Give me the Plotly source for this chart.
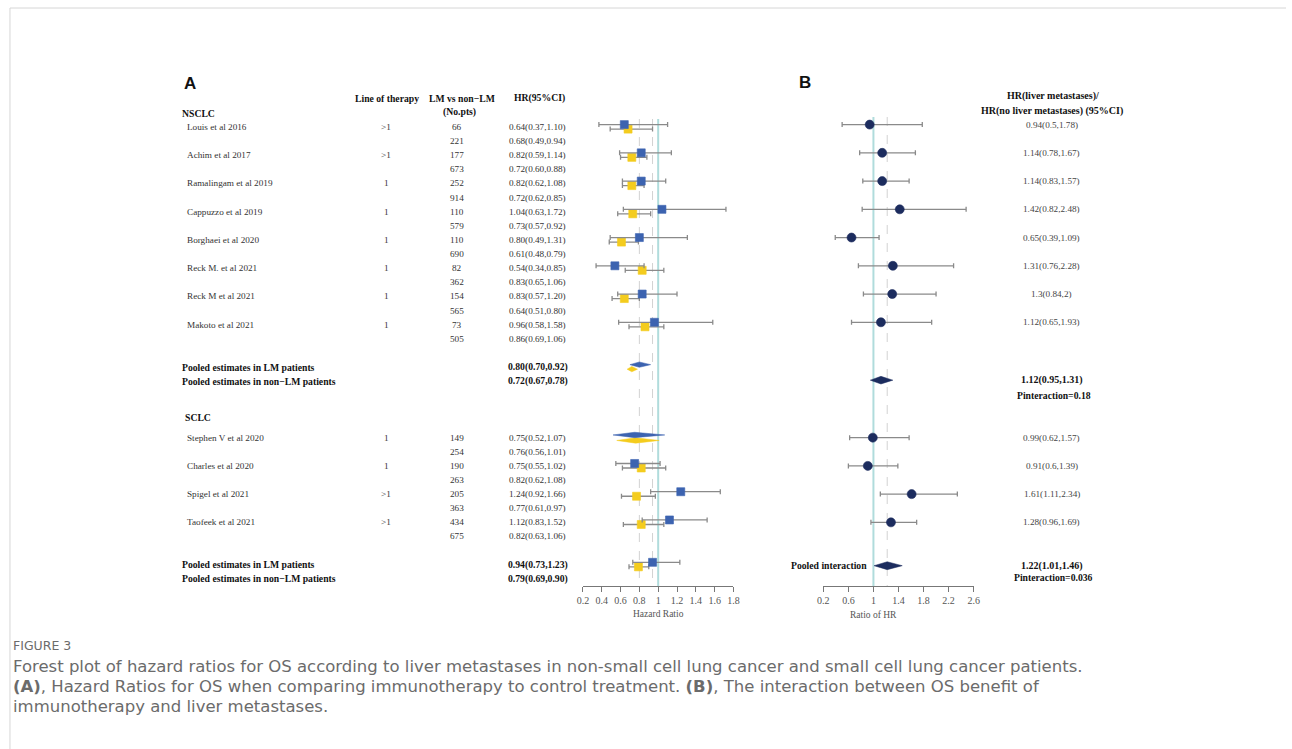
import plotly.graph_objects as go

# ---------------- Panel A: HR for OS, immunotherapy vs control ----------------
nsclc_studies = ["Louis et al 2016", "Achim et al 2017", "Ramalingam et al 2019",
                 "Cappuzzo et al 2019", "Borghaei et al 2020", "Reck M. et al 2021",
                 "Reck M et al 2021", "Makoto et al 2021"]
nsclc_line = [">1", ">1", "1", "1", "1", "1", "1", "1"]
nsclc_n_lm = [66, 177, 252, 110, 110, 82, 154, 73]
nsclc_n_non = [221, 673, 914, 579, 690, 362, 565, 505]
nsclc_hr_lm = [0.64, 0.82, 0.82, 1.04, 0.80, 0.54, 0.83, 0.96]
nsclc_lo_lm = [0.37, 0.59, 0.62, 0.63, 0.49, 0.34, 0.57, 0.58]
nsclc_hi_lm = [1.10, 1.14, 1.08, 1.72, 1.31, 0.85, 1.20, 1.58]
nsclc_hr_non = [0.68, 0.72, 0.72, 0.73, 0.61, 0.83, 0.64, 0.86]
nsclc_lo_non = [0.49, 0.60, 0.62, 0.57, 0.48, 0.65, 0.51, 0.69]
nsclc_hi_non = [0.94, 0.88, 0.85, 0.92, 0.79, 1.06, 0.80, 1.06]
nsclc_pooled_lm = [0.80, 0.70, 0.92]
nsclc_pooled_non = [0.72, 0.67, 0.78]

sclc_studies = ["Stephen V et al 2020", "Charles et al 2020", "Spigel et al 2021",
                "Taofeek et al 2021"]
sclc_line = ["1", "1", ">1", ">1"]
sclc_n_lm = [149, 190, 205, 434]
sclc_n_non = [254, 263, 363, 675]
sclc_hr_lm = [0.75, 0.75, 1.24, 1.12]
sclc_lo_lm = [0.52, 0.55, 0.92, 0.83]
sclc_hi_lm = [1.07, 1.02, 1.66, 1.52]
sclc_hr_non = [0.76, 0.82, 0.77, 0.82]
sclc_lo_non = [0.56, 0.62, 0.61, 0.63]
sclc_hi_non = [1.01, 1.08, 0.97, 1.06]
sclc_pooled_lm = [0.94, 0.73, 1.23]
sclc_pooled_non = [0.79, 0.69, 0.90]
diamond_studies = ["Stephen V et al 2020"]

# ---------------- Panel B: ratio of HRs (LM / non-LM) ----------------
nsclc_ratio = [0.94, 1.14, 1.14, 1.42, 0.65, 1.31, 1.3, 1.12]
nsclc_ratio_lo = [0.5, 0.78, 0.83, 0.82, 0.39, 0.76, 0.84, 0.65]
nsclc_ratio_hi = [1.78, 1.67, 1.57, 2.48, 1.09, 2.28, 2, 1.93]
nsclc_ratio_pooled = [1.12, 0.95, 1.31]
nsclc_p_interaction = "0.18"
sclc_ratio = [0.99, 0.91, 1.61, 1.28]
sclc_ratio_lo = [0.62, 0.6, 1.11, 0.96]
sclc_ratio_hi = [1.57, 1.39, 2.34, 1.69]
pooled_interaction = [1.22, 1.01, 1.46]
pooled_p_interaction = "0.036"

a_ticks = [0.2, 0.4, 0.6, 0.8, 1.0, 1.2, 1.4, 1.6, 1.8]
b_ticks = [0.2, 0.6, 1.0, 1.4, 1.8, 2.2, 2.6]

# ---------------- layout helpers ----------------
W, H = 1292, 749
ROW0_PX, ROW_PX = 127.0, 14.12
AXIS_PX = 586.0
LEFT_PAD = 3  # compensation for the annotation box inset of left-anchored text


def yr(py):
    return (py - ROW0_PX) / ROW_PX


def xp(px):
    return px / W


def yp(py):
    return 1 - py / H


BLUE = "#3c63b0"
YELLOW = "#f4cc1e"
NAVY = "#1c2c5e"
WHISKER = "#8a8a8a"
TEAL = "#b0dcdc"
SERIF = "Liberation Serif"
TXT = "#333333"
LM_OFF, NON_OFF = -0.17, 0.15
DIA_H = 0.19

nsclc_rows = [2 * i for i in range(len(nsclc_studies))]
nsclc_pool_rows = [17, 18]
sclc_rows = [22 + 2 * i for i in range(len(sclc_studies))]
sclc_pool_rows = [31, 32]

fig = go.Figure()


def fmt_ci(v):
    return f"{v[0]:.2f}({v[1]:.2f},{v[2]:.2f})"


def fmt_ratio(v):
    return f"{v[0]:g}({v[1]:g},{v[2]:g})"


def points(xs, los, his, ys, color, symbol, size, axis):
    fig.add_trace(go.Scatter(
        x=xs, y=ys, mode="markers", xaxis=axis, yaxis="y",
        marker=dict(symbol=symbol, size=size, color=color,
                    line=dict(width=0.6, color=color)),
        error_x=dict(type="data", symmetric=False,
                     array=[h - x for x, h in zip(xs, his)],
                     arrayminus=[x - l for x, l in zip(xs, los)],
                     color=WHISKER, thickness=1.3, width=2.5),
        hoverinfo="skip", cliponaxis=False))


def diamond(est, lo, hi, yc, half_h, color, axis):
    fig.add_trace(go.Scatter(
        x=[lo, est, hi, est, lo], y=[yc, yc - half_h, yc, yc + half_h, yc],
        mode="lines", fill="toself", fillcolor=color, xaxis=axis, yaxis="y",
        line=dict(color=color, width=0.5), hoverinfo="skip"))


# ---- panel A marks ----
all_studies = nsclc_studies + sclc_studies
all_rows = nsclc_rows + sclc_rows
hr_lm = nsclc_hr_lm + sclc_hr_lm
lo_lm = nsclc_lo_lm + sclc_lo_lm
hi_lm = nsclc_hi_lm + sclc_hi_lm
hr_non = nsclc_hr_non + sclc_hr_non
lo_non = nsclc_lo_non + sclc_lo_non
hi_non = nsclc_hi_non + sclc_hi_non

sq = [i for i, s in enumerate(all_studies) if s not in diamond_studies]
dm = [i for i, s in enumerate(all_studies) if s in diamond_studies]

for i in dm:
    diamond(hr_non[i], lo_non[i], hi_non[i], all_rows[i] + NON_OFF + 0.05, DIA_H, YELLOW, "x")
    diamond(hr_lm[i], lo_lm[i], hi_lm[i], all_rows[i] + LM_OFF - 0.02, DIA_H, BLUE, "x")

# pooled NSCLC estimates drawn as diamonds on the pooled LM row
diamond(*nsclc_pooled_non, nsclc_pool_rows[0] + NON_OFF, DIA_H, YELLOW, "x")
diamond(*nsclc_pooled_lm, nsclc_pool_rows[0] + LM_OFF, DIA_H, BLUE, "x")

# non-LM (yellow) squares, then LM (blue) squares
points([hr_non[i] for i in sq] + [sclc_pooled_non[0]],
       [lo_non[i] for i in sq] + [sclc_pooled_non[1]],
       [hi_non[i] for i in sq] + [sclc_pooled_non[2]],
       [all_rows[i] + NON_OFF for i in sq] + [sclc_pool_rows[0] + NON_OFF],
       YELLOW, "square", 8, "x")
points([hr_lm[i] for i in sq] + [sclc_pooled_lm[0]],
       [lo_lm[i] for i in sq] + [sclc_pooled_lm[1]],
       [hi_lm[i] for i in sq] + [sclc_pooled_lm[2]],
       [all_rows[i] + LM_OFF for i in sq] + [sclc_pool_rows[0] + LM_OFF],
       BLUE, "square", 8, "x")

# ---- panel B marks ----
b_rows_nsclc = [r + LM_OFF for r in nsclc_rows]
b_pool_nsclc = nsclc_pool_rows[1] - 0.07
b_rows_sclc = list(sclc_rows)
b_pool_sclc = yr(565.7)

points(nsclc_ratio + sclc_ratio, nsclc_ratio_lo + sclc_ratio_lo,
       nsclc_ratio_hi + sclc_ratio_hi, b_rows_nsclc + b_rows_sclc,
       NAVY, "circle", 9, "x2")
diamond(*nsclc_ratio_pooled, b_pool_nsclc, 0.27, NAVY, "x2")
diamond(*pooled_interaction, b_pool_sclc, 0.28, NAVY, "x2")

# ---- reference lines ----
shapes = []
top_a, top_b = yr(119), yr(117)
axis_row = yr(AXIS_PX)
for xv in [nsclc_pooled_lm[0], sclc_pooled_lm[0]]:
    shapes.append(dict(type="line", xref="x", yref="y", x0=xv, x1=xv, y0=top_a, y1=axis_row,
                       line=dict(color="#d2d2d2", width=1, dash="dash"), layer="below"))
shapes.append(dict(type="line", xref="x", yref="y", x0=1, x1=1, y0=top_a, y1=axis_row,
                   line=dict(color=TEAL, width=2), layer="below"))
shapes.append(dict(type="line", xref="x2", yref="y", x0=pooled_interaction[0],
                   x1=pooled_interaction[0], y0=top_b, y1=axis_row,
                   line=dict(color="#d2d2d2", width=1, dash="dash"), layer="below"))
shapes.append(dict(type="line", xref="x2", yref="y", x0=1, x1=1, y0=top_b, y1=axis_row,
                   line=dict(color=TEAL, width=2), layer="below"))
# frame around the figure panel
shapes.append(dict(type="line", xref="paper", yref="paper", x0=xp(4), x1=1,
                   y0=yp(8), y1=yp(8), line=dict(color="#d6d6d6", width=1)))
shapes.append(dict(type="line", xref="paper", yref="paper", x0=xp(4), x1=xp(4),
                   y0=yp(8), y1=0, line=dict(color="#d6d6d6", width=1)))

# ---- text ----
ann = []
BOLD = 9.7


def text(s, x_px, row, anchor="left", size=9, bold=False, color=TXT, family=SERIF):
    if anchor == "left":
        x_px -= LEFT_PAD
    ann.append(dict(text=f"<b>{s}</b>" if bold else s, xref="paper", yref="y",
                    x=xp(x_px), y=row, xanchor=anchor, yanchor="middle", showarrow=False,
                    borderpad=0,
                    font=dict(family=family, size=size, color="#111" if bold else color)))


text("A", 182, yr(83), size=17, bold=True, family="Liberation Sans")
text("B", 802, yr(82), size=17, bold=True, family="Liberation Sans")

text("Line of therapy", 384.5, yr(98), "center", BOLD, True)
text("LM vs non\u2212LM", 460.5, yr(98), "center", BOLD, True)
text("(No.pts)", 457.7, yr(112), "center", BOLD, True)
text("HR(95%CI)", 539, yr(98), "center", BOLD, True)
text("NSCLC", 180, yr(113), "left", BOLD, True)
text("SCLC", 182.5, yr(417), "left", BOLD, True)

lines = nsclc_line + sclc_line
n_lm = nsclc_n_lm + sclc_n_lm
n_non = nsclc_n_non + sclc_n_non
for i, s in enumerate(all_studies):
    r = all_rows[i]
    text(s, 185, r, size=9.2)
    text(lines[i], 384, r, "center", 9.2)
    text(str(n_lm[i]), 455, r, "center", 9.2)
    text(str(n_non[i]), 455, r + 1, "center", 9.2)
    text(fmt_ci([hr_lm[i], lo_lm[i], hi_lm[i]]), 536, r, "center", 9.2)
    text(fmt_ci([hr_non[i], lo_non[i], hi_non[i]]), 536, r + 1, "center", 9.2)

for rows, plm, pnon in [(nsclc_pool_rows, nsclc_pooled_lm, nsclc_pooled_non),
                        (sclc_pool_rows, sclc_pooled_lm, sclc_pooled_non)]:
    text("Pooled estimates in LM patients", 180, rows[0], "left", BOLD, True)
    text("Pooled estimates in non\u2212LM patients", 180, rows[1], "left", BOLD, True)
    text(fmt_ci(plm), 537, rows[0], "center", BOLD, True)
    text(fmt_ci(pnon), 537, rows[1], "center", BOLD, True)

text("HR(liver metastases)/", 1057, yr(95.7), "center", 10, True)
text("HR(no liver metastases) (95%CI)", 1055.7, yr(110.7), "center", 10, True)
ratios = list(zip(nsclc_ratio + sclc_ratio, nsclc_ratio_lo + sclc_ratio_lo,
                  nsclc_ratio_hi + sclc_ratio_hi))
for v, r in zip(ratios, b_rows_nsclc + b_rows_sclc):
    text(fmt_ratio(v), 1055.5, r, "center", 9.2, color="#444")
text(fmt_ci(nsclc_ratio_pooled), 1056, b_pool_nsclc, "center", 10, True)
text(f"Pinteraction={nsclc_p_interaction}", 1057.8, yr(395.7), "center", BOLD, True)
text("Pooled interaction", 831, b_pool_sclc, "center", BOLD, True)
text(fmt_ci(pooled_interaction), 1056.3, b_pool_sclc, "center", 10, True)
text(f"Pinteraction={pooled_p_interaction}", 1057.7, yr(577.3), "center", BOLD, True)

text("Hazard Ratio", 658.3, yr(613.5), "center", 9.5, color="#555")
text("Ratio of HR", 875.6, yr(614.5), "center", 9.5, color="#555")

# caption
CAP = "DejaVu Sans"
CAP_COLOR = "#6b6b6b"
caption = [
    ("FIGURE 3", 645, 12.5),
    ("Forest plot of hazard ratios for OS according to liver metastases in non-small cell "
     "lung cancer and small cell lung cancer patients.", 666, 16.5),
    ("<b>(A)</b>, Hazard Ratios for OS when comparing immunotherapy to control treatment. "
     "<b>(B)</b>, The interaction between OS benefit of", 686, 16.5),
    ("immunotherapy and liver metastases.", 706, 16.5),
]
for s, py, sz in caption:
    ann.append(dict(text=s, xref="paper", yref="paper", x=xp(9 - LEFT_PAD), y=yp(py),
                    xanchor="left", yanchor="middle", showarrow=False, borderpad=0,
                    font=dict(family=CAP, size=sz, color=CAP_COLOR)))


def tick_text(v):
    return f"{v:g}"


axis_common = dict(showgrid=False, zeroline=False, showline=True,
                   linecolor="#777", linewidth=1, ticks="outside", ticklen=5,
                   tickcolor="#777", tickfont=dict(family=SERIF, size=10, color="#555"),
                   anchor="free", position=yp(AXIS_PX), fixedrange=True)

fig.update_layout(
    width=W, height=H, margin=dict(l=0, r=0, t=0, b=0),
    paper_bgcolor="white", plot_bgcolor="white", showlegend=False,
    xaxis=dict(axis_common, domain=[xp(582.3), xp(734.3)], range=[0.2, 1.8],
               tickvals=a_ticks, ticktext=[tick_text(v) for v in a_ticks]),
    xaxis2=dict(axis_common, domain=[xp(825), xp(976.7)], range=[0.2, 2.6],
                tickvals=b_ticks, ticktext=[tick_text(v) for v in b_ticks]),
    yaxis=dict(domain=[0, 1], range=[yr(H), yr(0)], visible=False, fixedrange=True),
    shapes=shapes, annotations=ann,
)

fig.write_html("out.html")
